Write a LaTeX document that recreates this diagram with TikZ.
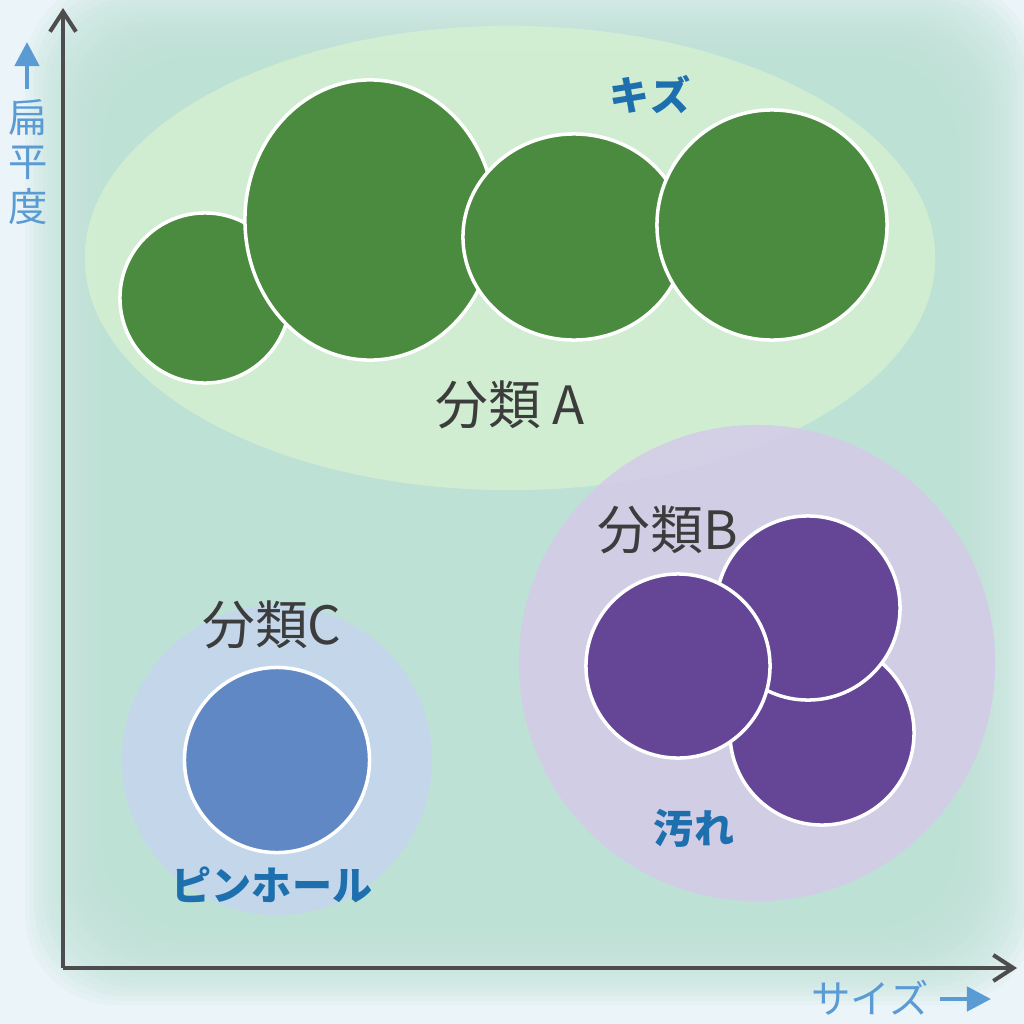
\documentclass[tikz,border=0pt]{standalone}
\usepackage{fontspec}
\setmainfont{Noto Sans CJK JP}
\usetikzlibrary{shapes.geometric, arrows.meta}

\definecolor{bgmid}{RGB}{190,225,214}
\definecolor{bgedge}{RGB}{235,244,248}
\definecolor{zoneA}{RGB}{212,240,210}
\definecolor{zoneB}{RGB}{212,202,232}
\definecolor{zoneC}{RGB}{198,214,238}
\definecolor{leafgreen}{RGB}{75,139,63}
\definecolor{grape}{RGB}{101,69,150}
\definecolor{pinblue}{RGB}{95,136,197}
\definecolor{inkgray}{RGB}{60,60,60}
\definecolor{axisgray}{RGB}{77,77,77}
\definecolor{tagblue}{RGB}{30,111,174}
\definecolor{axisblue}{RGB}{90,155,211}

\begin{document}
\begin{tikzpicture}[
			x=0.01cm, y=-0.01cm,
			ball/.style={draw=white, line width=1pt, inner sep=0pt},
			greenball/.style={ball, fill=leafgreen},
			grapeball/.style={ball, fill=grape, circle, minimum size=1.84cm},
			zone/.style={inner sep=0pt, opacity=0.85},
			group/.style={font=\fontsize{15}{18}\selectfont, text=inkgray},
			tag/.style={font=\fontsize{11.4}{14}\selectfont\bfseries, text=tagblue},
			axislabel/.style={font=\fontsize{11.2}{12.6}\selectfont, text=axisblue, align=center},
			axis/.style={draw=axisgray, line width=1.15pt},
			hint/.style={draw=axisblue, line width=1.3pt, -{Triangle[length=2.4mm, width=2.4mm]}},
			>={Straight Barb[length=2mm, width=2.6mm]}
			]
			\useasboundingbox (0,0) rectangle (1024,1024);
			\fill[bgedge] (0,0) rectangle (1024,1024);
			% soft glow behind the plot area
			\foreach \k in {0,...,21}
				\fill[bgmid, opacity=0.12, rounded corners=0.9cm]
					(25+\k*4.5,-20+\k*4.5) rectangle (1035-\k*4.5,1005-\k*4.5);

			% group A
			\node[zone, ellipse, fill=zoneA, minimum width=8.5cm, minimum height=4.64cm] (zA) at (510,258) {};
			\node[greenball, circle, minimum size=1.7cm] (a1) at (205,298) {};
			\node[greenball, ellipse, minimum width=2.5cm, minimum height=2.8cm] (a2) at (370,220) {};
			\node[greenball, ellipse, minimum width=2.22cm, minimum height=2.06cm] (a3) at (574,237) {};
			\node[greenball, circle, minimum size=2.3cm] (a4) at (772,225) {};
			\node[tag] (kizu) at (650,95) {キズ};
			\node[group] (lA) at (510,405) {分類 A};

			% group B
			\node[zone, circle, fill=zoneB, minimum size=4.76cm] (zB) at (757,663) {};
			\node[grapeball] (b3) at (822,733) {};
			\node[grapeball] (b2) at (808,608) {};
			\node[grapeball] (b1) at (678,666) {};
			\node[group] (lB) at (668,530) {分類B};
			\node[tag] (yogore) at (694,828) {汚れ};

			% group C
			\node[zone, circle, fill=zoneC, minimum size=3.1cm] (zC) at (277,760) {};
			\node[ball, circle, fill=pinblue, minimum size=1.85cm] (c1) at (277,760) {};
			\node[group] (lC) at (272,625) {分類C};
			\node[tag] (pinhole) at (272,885) {ピンホール};

			% axes
			\coordinate (O) at (63,968);
			\coordinate (ytop) at (63,8);
			\coordinate (xend) at (1017,968);
			\draw[axis, ->] (O) -- (ytop);
			\draw[axis, ->] (O) -- (xend);

			\coordinate (ybase) at (27,89);
			\coordinate (ytip) at (27,42);
			\draw[hint] (ybase) -- (ytip);
			\node[axislabel] (ylab) at (28,162) {扁\\平\\度};

			\coordinate (xbase) at (940,999);
			\coordinate (xtip) at (991,999);
			\draw[hint] (xbase) -- (xtip);
			\node[axislabel] (xlab) at (870,998) {サイズ};
		\end{tikzpicture}
\end{document}
